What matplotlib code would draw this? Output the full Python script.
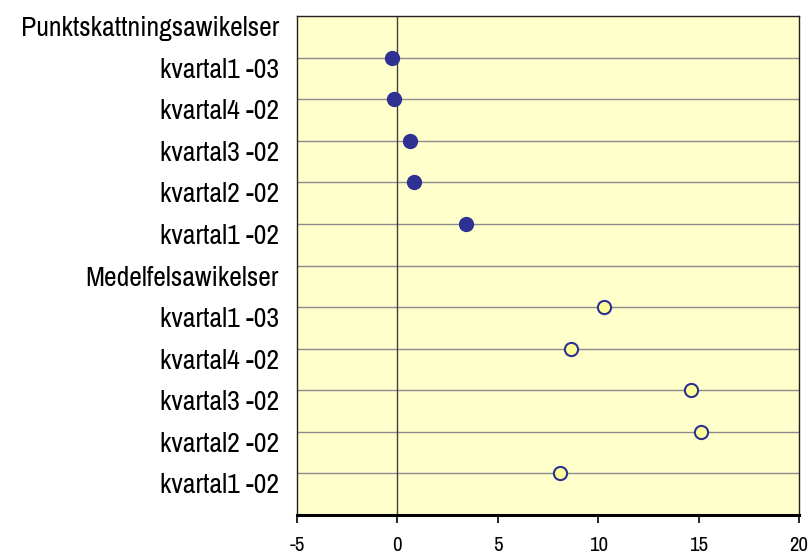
import matplotlib.pyplot as plt
from matplotlib.transforms import ScaledTranslation

# category labels, top to bottom
labels = ["Punktskattningsawikelser", "kvartal1 -03", "kvartal4 -02", "kvartal3 -02",
          "kvartal2 -02", "kvartal1 -02", "Medelfelsawikelser", "kvartal1 -03",
          "kvartal4 -02", "kvartal3 -02", "kvartal2 -02", "kvartal1 -02"]

# point estimate deviations (filled markers)
punkt_pos = [11, 10, 9, 8, 7]
punkt_val = [-0.25, -0.17, 0.62, 0.82, 3.42]

# mean error deviations (open markers)
medel_pos = [5, 4, 3, 2, 1]
medel_val = [10.3, 8.65, 14.6, 15.1, 8.08]

xticks = [-5, 0, 5, 10, 15, 20]

plt.rcParams['font.family'] = ['Archivo Narrow', 'Roboto Condensed', 'DejaVu Sans']

fig = plt.figure(figsize=(8.1, 5.56), dpi=100)
ax = fig.add_axes([0.3667, 0.0737, 0.6197, 0.8975])
ax.set_facecolor('#FFFFCC')

for y in range(1, 12):
    ax.axhline(y, color='#8c8c8c', lw=1, zorder=1)
ax.axvline(0, color='#404040', lw=1, zorder=1)

ax.plot(punkt_val, punkt_pos, 'o', ms=10, color='#2E3192', mec='#2E3192', zorder=3)
ax.plot(medel_val, medel_pos, 'o', ms=9.5, color='#FFFF99', mec='#2E3192', mew=1.5, zorder=3)

ax.set_xlim(-5, 20)
ax.set_ylim(0, 12)
ax.set_xticks(xticks)
ax.set_xticklabels([str(v) for v in xticks], fontsize=15)
ax.tick_params(axis='x', direction='out', length=6, width=1.2, pad=9)

ax.set_yticks(list(range(12, 0, -1)))
ax.set_yticklabels(labels, fontsize=20)
ax.tick_params(axis='y', length=0, pad=13)
offset = ScaledTranslation(0, -0.1, fig.dpi_scale_trans)
for lbl in ax.get_yticklabels():
    lbl.set_transform(lbl.get_transform() + offset)

for s in ['left', 'right', 'top']:
    ax.spines[s].set_linewidth(1)
    ax.spines[s].set_color('#202020')
ax.spines['bottom'].set_linewidth(2.2)

fig.savefig('out.png', dpi=100)
